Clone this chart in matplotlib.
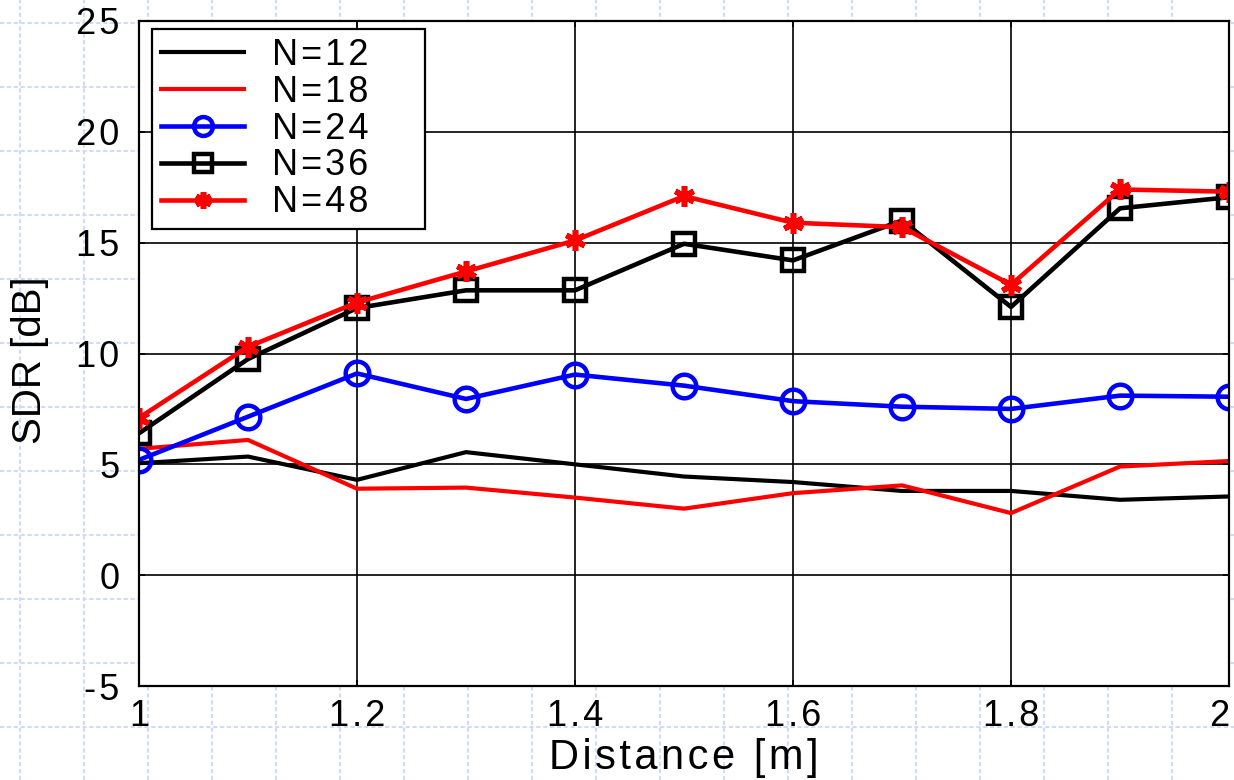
"""SDR vs distance for different numbers of microphones."""

import matplotlib
matplotlib.use("Agg")
import matplotlib.pyplot as plt
from matplotlib.lines import Line2D

plt.rcParams["font.family"] = ["Liberation Sans", "DejaVu Sans"]

distance = [1.0, 1.1, 1.2, 1.3, 1.4, 1.5, 1.6, 1.7, 1.8, 1.9, 2.0]
sdr_n12 = [5.05, 5.35, 4.3, 5.55, 5.0, 4.45, 4.2, 3.8, 3.8, 3.4, 3.55]
sdr_n18 = [5.7, 6.1, 3.9, 3.95, 3.5, 3.0, 3.7, 4.05, 2.8, 4.9, 5.15]
sdr_n24 = [5.2, 7.15, 9.1, 7.95, 9.05, 8.55, 7.85, 7.6, 7.5, 8.1, 8.05]
sdr_n36 = [6.4, 9.75, 12.05, 12.85, 12.85, 14.95, 14.2, 16.0, 12.1, 16.55, 17.05]
sdr_n48 = [7.1, 10.3, 12.3, 13.7, 15.1, 17.1, 15.9, 15.7, 13.1, 17.4, 17.3]

labels = ["N=12", "N=18", "N=24", "N=36", "N=48"]
x_ticks = [1, 1.2, 1.4, 1.6, 1.8, 2]
x_ticklabels = ["1", "1.2", "1.4", "1.6", "1.8", "2"]
y_ticks = [-5, 0, 5, 10, 15, 20, 25]
y_ticklabels = ["-5", "0", "5", "10", "15", "20", "25"]


def spaced(s):
    # wide letter spacing like the original export
    return "\u200a".join(s)


fig = plt.figure(figsize=(12.34, 7.8), dpi=100)
fig.set_facecolor("white")

# light dotted canvas grid behind the plot
W, H = 1234, 780
for px in range(20, W, 64):
    fig.add_artist(Line2D([px / W, px / W], [0, 1], transform=fig.transFigure,
                          color="#d0dbf7", lw=1.5, ls=(0, (2, 1.3)), zorder=-10))
for py in range(23, H, 64):
    fig.add_artist(Line2D([0, 1], [1 - py / H, 1 - py / H], transform=fig.transFigure,
                          color="#d0dbf7", lw=1.5, ls=(0, (2, 1.3)), zorder=-10))

ax = fig.add_axes([139 / W, (H - 686) / H, 1090 / W, 665 / H])
ax.set_facecolor("white")

ax.plot(distance, sdr_n12, color="black", lw=3.0, label=spaced(labels[0]))
ax.plot(distance, sdr_n18, color="#ff0000", lw=3.0, label=spaced(labels[1]))
ax.plot(distance, sdr_n24, color="#0000ff", lw=3.3, marker="o", ms=17,
        mfc="none", mew=3.2, label=spaced(labels[2]))
ax.plot(distance, sdr_n36, color="black", lw=3.3, marker="s", ms=16,
        mfc="none", mew=3.2, label=spaced(labels[3]))
ax.plot(distance, sdr_n48, color="#ff0000", lw=3.3, marker=(6, 2, 0), ms=15,
        mew=4.0, label=spaced(labels[4]))

ax.set_xlim(1, 2)
ax.set_ylim(-5, 25)
ax.set_xticks(x_ticks)
ax.set_xticklabels([spaced(t) for t in x_ticklabels])
ax.set_yticks(y_ticks)
ax.set_yticklabels([spaced(t) for t in y_ticklabels])
ax.tick_params(direction="in", length=4, width=1.2, labelsize=26, pad=9,
               top=True, right=True)
ax.tick_params(axis="y", pad=14)
ax.get_xticklabels()[-1].set_horizontalalignment("right")
ax.grid(True, color="black", lw=1.2)
ax.set_axisbelow(True)
for sp in ax.spines.values():
    sp.set_linewidth(1.6)
    sp.set_color("black")

ax.set_xlabel(spaced("Distance [m]"), fontsize=30)
ax.set_ylabel("SDR [dB]", fontsize=29)
ax.xaxis.set_label_coords(0.5, -0.078)
ax.yaxis.set_label_coords(-0.083, 0.49)

leg = ax.legend(loc="upper left", bbox_to_anchor=(0.012, 0.696, 0.25, 0.292),
                mode="expand", borderaxespad=0, fontsize=26, markerscale=0.8,
                handlelength=2.3, handletextpad=0.78, labelspacing=0.05,
                borderpad=0.25, fancybox=False, framealpha=1, edgecolor="black")
leg.get_frame().set_linewidth(1.6)

fig.savefig("out.png", dpi=100, facecolor=fig.get_facecolor())
